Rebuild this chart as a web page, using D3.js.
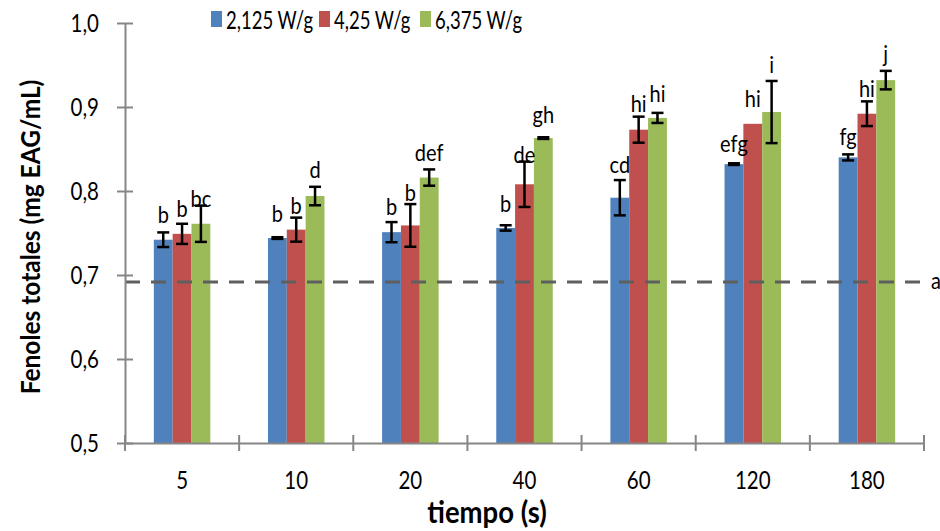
<!DOCTYPE html>
<html>
<head>
<meta charset="utf-8">
<script src="https://cdn.jsdelivr.net/npm/d3@7"></script>
<style>
  html, body { margin: 0; padding: 0; background: #fff; }
  svg { display: block; font-family: Lato, "Open Sans", sans-serif; }
</style>
</head>
<body>
<svg id="chart" width="940" height="531"></svg>
<script>
// ---- data ----
const categories = ["5", "10", "20", "40", "60", "120", "180"];
const seriesNames = ["2,125 W/g", "4,25 W/g", "6,375 W/g"];
const seriesColors = ["#4F81BD", "#C0504D", "#9BBB59"];

const values2125 = [0.742, 0.744, 0.751, 0.756, 0.792, 0.832, 0.840];
const values425  = [0.749, 0.754, 0.759, 0.808, 0.873, 0.880, 0.892];
const values6375 = [0.761, 0.794, 0.816, 0.863, 0.887, 0.894, 0.932];

const err2125 = [0.0087, 0.001, 0.012, 0.0032, 0.021, 0.001, 0.0036];
const err425  = [0.012, 0.0143, 0.0254, 0.027, 0.0155, 0, 0.0147];
const err6375 = [0.0216, 0.011, 0.0097, 0.001, 0.006, 0.037, 0.011];

const letters2125 = ["b", "b", "b", "b", "cd", "efg", "fg"];
const letters425  = ["b", "b", "b", "de", "hi", "hi", "hi"];
const letters6375 = ["bc", "d", "def", "gh", "hi", "i", "j"];

// label anchor (data units, baseline)
const labelAt2125 = [0.762, 0.7635, 0.7714, 0.7754, 0.821, 0.8468, 0.8548];
const labelAt425  = [0.769, 0.7726, 0.7885, 0.833, 0.8944, 0.9004, 0.9123];
const labelAt6375 = [0.7813, 0.8151, 0.836, 0.8813, 0.9063, 0.9401, 0.9536];

const controlValue = 0.6917;
const controlLabel = "a";

const yTicks = [0.5, 0.6, 0.7, 0.8, 0.9, 1.0];
const yTitle = "Fenoles totales (mg EAG/mL)";
const xTitle = "tiempo (s)";

// ---- build ----
const series = [
  { name: seriesNames[0], color: seriesColors[0], values: values2125, err: err2125, letters: letters2125, labelAt: labelAt2125 },
  { name: seriesNames[1], color: seriesColors[1], values: values425,  err: err425,  letters: letters425,  labelAt: labelAt425 },
  { name: seriesNames[2], color: seriesColors[2], values: values6375, err: err6375, letters: letters6375, labelAt: labelAt6375 }
];

const svg = d3.select("#chart");
const plot = { left: 125, right: 924, top: 23, bottom: 443 };

const x = d3.scaleBand().domain(categories).range([plot.left, plot.right]).paddingInner(0).paddingOuter(0);
const groupW = x.bandwidth() * 0.495;
const xs = d3.scaleBand().domain(d3.range(series.length)).range([-groupW / 2, groupW / 2]).padding(0);
const y = d3.scaleLinear().domain([0.5, 1.0]).range([plot.bottom, plot.top]);

const axisColor = "#868686";
const K = 1.2; // vertical text stretch as in the reference

function stretchText(parent, tx, ty, str, size, opts = {}) {
  return parent.append("text")
    .attr("transform", `translate(${tx},${ty}) ${opts.rotate ? "rotate(" + opts.rotate + ")" : ""} scale(1,${opts.k || K})`)
    .attr("text-anchor", opts.anchor || "start")
    .attr("font-size", size)
    .attr("font-weight", opts.weight || "normal")
    .attr("fill", "#000")
    .text(str);
}

// bars
series.forEach((s, si) => {
  svg.append("g").selectAll("rect").data(categories).join("rect")
    .attr("x", c => x(c) + x.bandwidth() / 2 + xs(si))
    .attr("width", xs.bandwidth())
    .attr("y", (c, i) => y(s.values[i]))
    .attr("height", (c, i) => y(0.5) - y(s.values[i]))
    .attr("fill", s.color);
});

// dashed control line
svg.append("line")
  .attr("x1", plot.left).attr("x2", plot.right)
  .attr("y1", y(controlValue)).attr("y2", y(controlValue))
  .attr("stroke", "#5f5f5f").attr("stroke-width", 3)
  .attr("stroke-dasharray", "15,11");
stretchText(svg, plot.right + 7, y(controlValue) + 7, controlLabel, 20);

// error bars
series.forEach((s, si) => {
  const g = svg.append("g").attr("stroke", "#000").attr("stroke-width", 2.5);
  categories.forEach((c, i) => {
    if (!s.err[i]) return;
    const cx = x(c) + x.bandwidth() / 2 + xs(si) + xs.bandwidth() / 2;
    const y1 = y(s.values[i] + s.err[i]);
    const y2 = y(s.values[i] - s.err[i]);
    g.append("line").attr("x1", cx).attr("x2", cx).attr("y1", y1).attr("y2", y2);
    g.append("line").attr("x1", cx - 6).attr("x2", cx + 6).attr("y1", y1).attr("y2", y1);
    g.append("line").attr("x1", cx - 6).attr("x2", cx + 6).attr("y1", y2).attr("y2", y2);
  });
});

// letters
const lettersG = svg.append("g");
series.forEach((s, si) => {
  categories.forEach((c, i) => {
    const cx = x(c) + x.bandwidth() / 2 + xs(si) + xs.bandwidth() / 2;
    stretchText(lettersG, cx, y(s.labelAt[i]), s.letters[i], 20, { anchor: "middle" });
  });
});

// y axis
const yAxis = svg.append("g").attr("transform", `translate(${plot.left},0)`)
  .call(d3.axisLeft(y).tickValues(yTicks).tickSize(0).tickFormat(""));
yAxis.select(".domain").attr("stroke", axisColor).attr("stroke-width", 2);
yAxis.selectAll(".tick").append("line")
  .attr("x1", -8).attr("x2", 8).attr("stroke", axisColor).attr("stroke-width", 2);
yTicks.forEach(t => {
  stretchText(svg, 99, y(t) + 8.5, d3.format(".1f")(t).replace(".", ","), 20.5, { anchor: "end", k: 1.2 });
});

// x axis
const xAxis = svg.append("g").attr("transform", `translate(0,${plot.bottom})`)
  .call(d3.axisBottom(x).tickSize(0).tickFormat(""));
xAxis.select(".domain").attr("stroke", axisColor).attr("stroke-width", 2);
const bounds = categories.map(c => x(c)).concat([x(categories[categories.length - 1]) + x.bandwidth()]);
xAxis.append("g").selectAll("line").data(bounds).join("line")
  .attr("x1", d => d).attr("x2", d => d).attr("y1", -8).attr("y2", 8)
  .attr("stroke", axisColor).attr("stroke-width", 2);
categories.forEach(c => {
  stretchText(svg, x(c) + x.bandwidth() / 2, 488.5, c, 20.5, { anchor: "middle", k: 1.2 });
});

// titles
stretchText(svg, 40, (plot.top + plot.bottom) / 2 + 4, yTitle, 24.5, { anchor: "middle", weight: "bold", rotate: -90, k: 1.1 });
stretchText(svg, 487, 523, xTitle, 27.5, { anchor: "middle", weight: "bold", k: 1.1 });

// legend
const legendX = [211, 319, 420];
const legend = svg.append("g");
series.forEach((s, si) => {
  legend.append("rect").attr("x", legendX[si]).attr("y", 11).attr("width", 11).attr("height", 16).attr("fill", s.color);
  stretchText(legend, legendX[si] + 15, 29, s.name, 18.5, { k: 1.35 });
});
</script>
</body>
</html>
